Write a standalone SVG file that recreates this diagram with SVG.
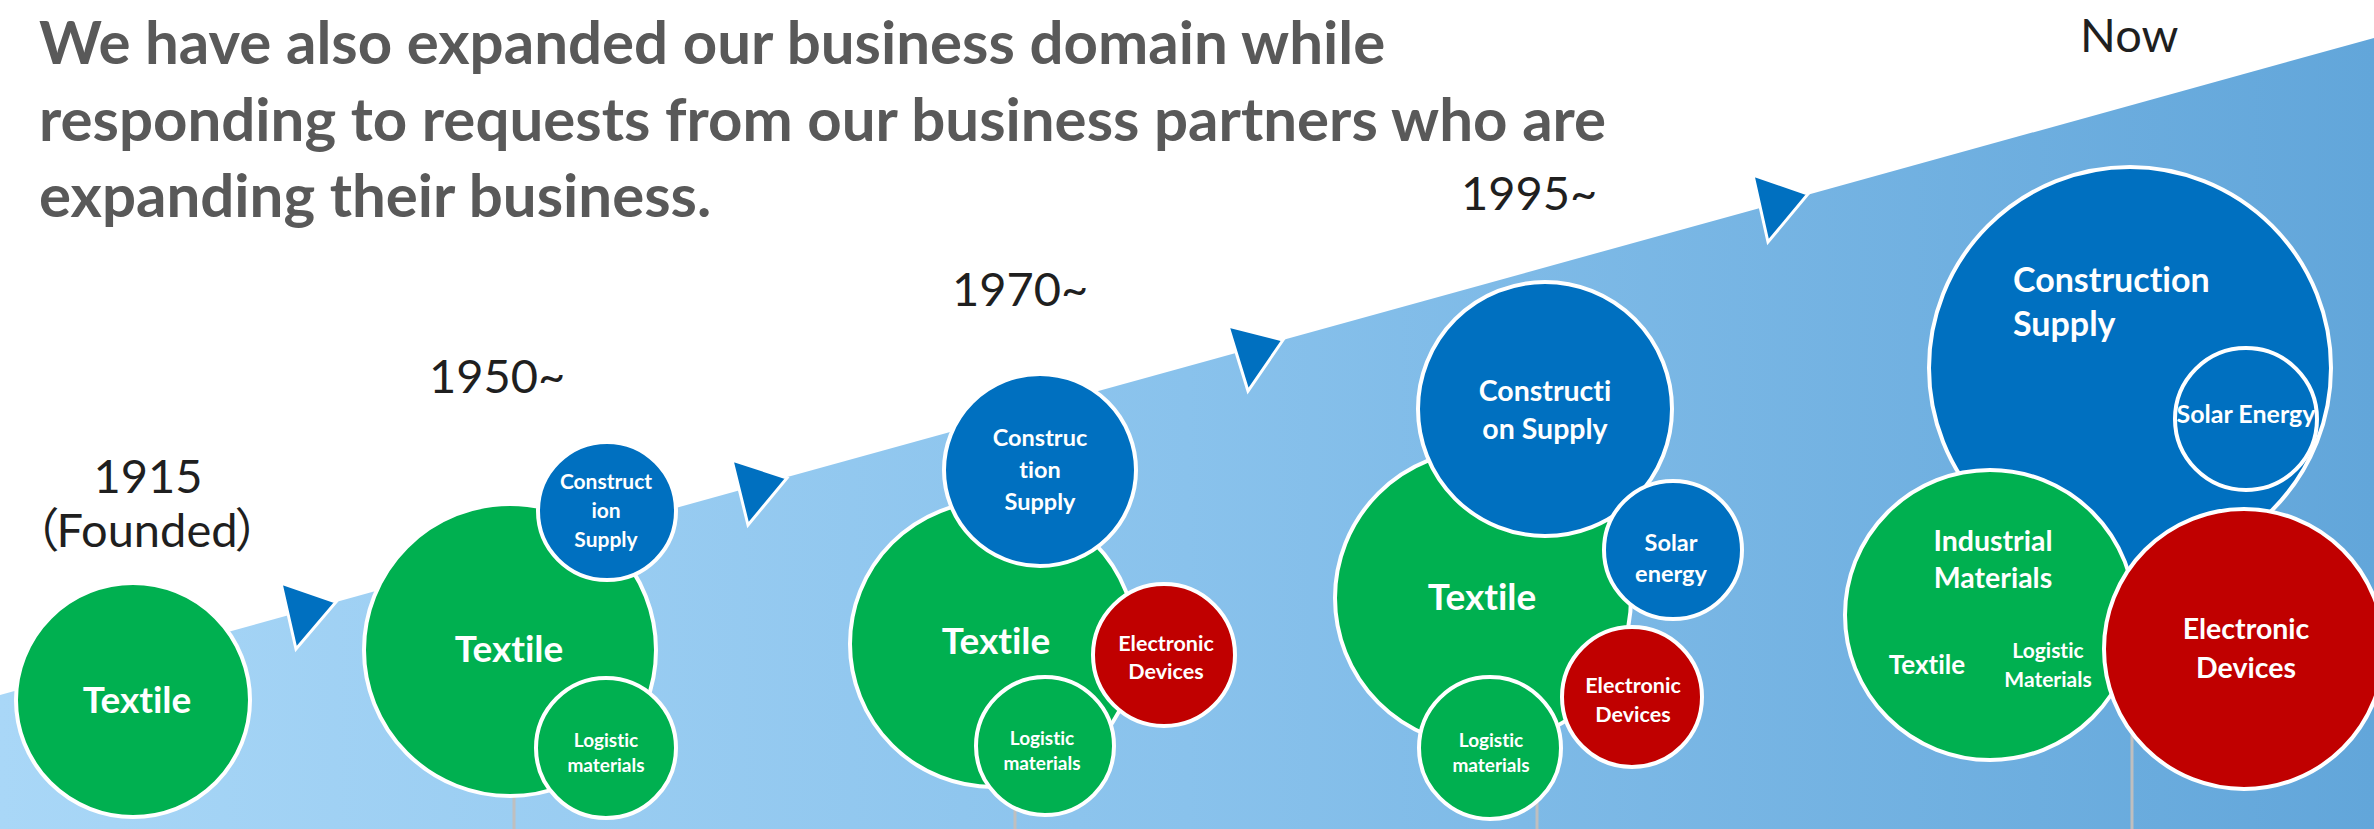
<svg xmlns="http://www.w3.org/2000/svg" width="2374" height="829" viewBox="0 0 2374 829">
  <defs>
    <linearGradient id="bandFill" x1="0" y1="0" x2="1" y2="0">
      <stop offset="0" stop-color="#A9D7F7"/>
      <stop offset="0.5" stop-color="#89C2EC"/>
      <stop offset="1" stop-color="#62A6DA"/>
    </linearGradient>
    <style>
      text { font-variant-ligatures: none; font-feature-settings: "liga" 0, "clig" 0; }
      .bub { stroke: #FFFFFF; stroke-width: 4; }
      .green { fill: #00B050; }
      .blue { fill: #0070C0; }
      .red { fill: #C00000; }
      .ring { fill: none; stroke: #FFFFFF; stroke-width: 4; }
      .lbl { font-family: Lato, "Liberation Sans", sans-serif; font-weight: bold; fill: #FFFFFF; text-anchor: middle; }
      .lbl.left { text-anchor: start; }
      .year { font-family: Lato, "Liberation Sans", "Noto Sans CJK JP", sans-serif; fill: #1F1F1F; font-size: 47px; }
      .title { font-family: Lato, "Liberation Sans", sans-serif; font-weight: bold; fill: #595959; font-size: 60px; }
      .marker { fill: #0070C0; stroke: #FFFFFF; stroke-width: 3; stroke-linejoin: miter; }
      .drop { stroke: #BFBFBF; stroke-width: 3; }
    </style>
  </defs>

  <rect width="2374" height="829" fill="#FFFFFF"/>

  <!-- rising timeline band with arrowhead markers -->
  <g id="timeline">
    <polygon points="0,695 2374,38 2374,829 0,829" fill="url(#bandFill)"/>
    <polygon class="marker" points="281,583 336,602 296,649"/>
    <polygon class="marker" points="732,460 787,478 748,525"/>
    <polygon class="marker" points="1228,326 1283,340 1248,391"/>
    <polygon class="marker" points="1753,175 1808,194 1768,242"/>
  </g>

  <!-- heading -->
  <g id="heading">
    <text class="title" x="39" y="64">We have also expanded our business domain while</text>
    <text class="title" x="39" y="141">responding to requests from our business partners who are</text>
    <text class="title" x="39" y="217">expanding their business.</text>
  </g>

  <!-- era labels -->
  <g id="years">
    <text class="year" x="148" y="493" text-anchor="middle">1915</text>
    <text class="year" x="147" y="547" text-anchor="middle" font-size="37">（<tspan dx="-3">Founded</tspan><tspan dx="-3">）</tspan></text>
    <text class="year" x="429" y="393">1950~</text>
    <text class="year" x="952" y="306">1970~</text>
    <text class="year" x="1461" y="210">1995~</text>
    <text class="year" x="2080" y="52">Now</text>
  </g>

  <!-- drop lines beneath each cluster -->
  <g id="connectors">
    <line class="drop" x1="514" y1="700" x2="514" y2="829"/>
    <line class="drop" x1="1015" y1="700" x2="1015" y2="829"/>
    <line class="drop" x1="1537" y1="700" x2="1537" y2="829"/>
    <line class="drop" x1="2132" y1="600" x2="2132" y2="829"/>
  </g>

  <!-- 1915 -->
  <g id="era-1915">
    <circle class="bub green" cx="133" cy="700" r="117"/>
    <text class="lbl" x="137" y="713" font-size="37">Textile</text>
  </g>

  <!-- 1950 -->
  <g id="era-1950">
    <circle class="bub green" cx="510" cy="650" r="146"/>
    <text class="lbl" x="509" y="662" font-size="37">Textile</text>
    <circle class="bub blue" cx="607" cy="511" r="69"/>
    <text class="lbl" x="606" y="489" font-size="21">Construct</text>
    <text class="lbl" x="606" y="518" font-size="21">ion</text>
    <text class="lbl" x="606" y="547" font-size="21">Supply</text>
    <circle class="bub green" cx="606" cy="748" r="70"/>
    <text class="lbl" x="606" y="747" font-size="19">Logistic</text>
    <text class="lbl" x="606" y="772" font-size="19">materials</text>
  </g>

  <!-- 1970 -->
  <g id="era-1970">
    <circle class="bub green" cx="993" cy="644" r="143"/>
    <text class="lbl" x="996" y="654" font-size="37">Textile</text>
    <circle class="bub blue" cx="1040" cy="470" r="96"/>
    <text class="lbl" x="1040" y="446" font-size="23.5">Construc</text>
    <text class="lbl" x="1040" y="478" font-size="23.5">tion</text>
    <text class="lbl" x="1040" y="510" font-size="23.5">Supply</text>
    <circle class="bub red" cx="1164" cy="655" r="71"/>
    <text class="lbl" x="1166" y="651" font-size="21.5">Electronic</text>
    <text class="lbl" x="1166" y="679" font-size="21.5">Devices</text>
    <circle class="bub green" cx="1045" cy="746" r="69"/>
    <text class="lbl" x="1042" y="745" font-size="19">Logistic</text>
    <text class="lbl" x="1042" y="770" font-size="19">materials</text>
  </g>

  <!-- 1995 -->
  <g id="era-1995">
    <circle class="bub green" cx="1483" cy="598" r="148"/>
    <text class="lbl" x="1482" y="610" font-size="37">Textile</text>
    <circle class="bub blue" cx="1545" cy="409" r="127"/>
    <text class="lbl" x="1545" y="401" font-size="28.5">Constructi</text>
    <text class="lbl" x="1545" y="439" font-size="28.5">on Supply</text>
    <circle class="bub blue" cx="1673" cy="550" r="69"/>
    <text class="lbl" x="1671" y="551" font-size="23.5">Solar</text>
    <text class="lbl" x="1671" y="582" font-size="23.5">energy</text>
    <circle class="bub red" cx="1632" cy="697" r="70"/>
    <text class="lbl" x="1633" y="693" font-size="21.5">Electronic</text>
    <text class="lbl" x="1633" y="722" font-size="21.5">Devices</text>
    <circle class="bub green" cx="1490" cy="748" r="71"/>
    <text class="lbl" x="1491" y="747" font-size="19">Logistic</text>
    <text class="lbl" x="1491" y="772" font-size="19">materials</text>
  </g>

  <!-- present day -->
  <g id="era-now">
    <circle class="bub blue" cx="2130" cy="368" r="201"/>
    <text class="lbl left" x="2013" y="292" font-size="34">Construction</text>
    <text class="lbl left" x="2013" y="336" font-size="34">Supply</text>
    <circle class="ring" cx="2246" cy="419" r="71"/>
    <text class="lbl" x="2246" y="423" font-size="25">Solar Energy</text>
    <circle class="bub green" cx="1990" cy="615" r="145"/>
    <text class="lbl" x="1993" y="551" font-size="28.5">Industrial</text>
    <text class="lbl" x="1993" y="588" font-size="28.5">Materials</text>
    <text class="lbl" x="1927" y="674" font-size="26">Textile</text>
    <text class="lbl" x="2048" y="658" font-size="21">Logistic</text>
    <text class="lbl" x="2048" y="687" font-size="21">Materials</text>
    <circle class="bub red" cx="2244" cy="649" r="140"/>
    <text class="lbl" x="2246" y="639" font-size="28.5">Electronic</text>
    <text class="lbl" x="2246" y="678" font-size="28.5">Devices</text>
  </g>
</svg>
